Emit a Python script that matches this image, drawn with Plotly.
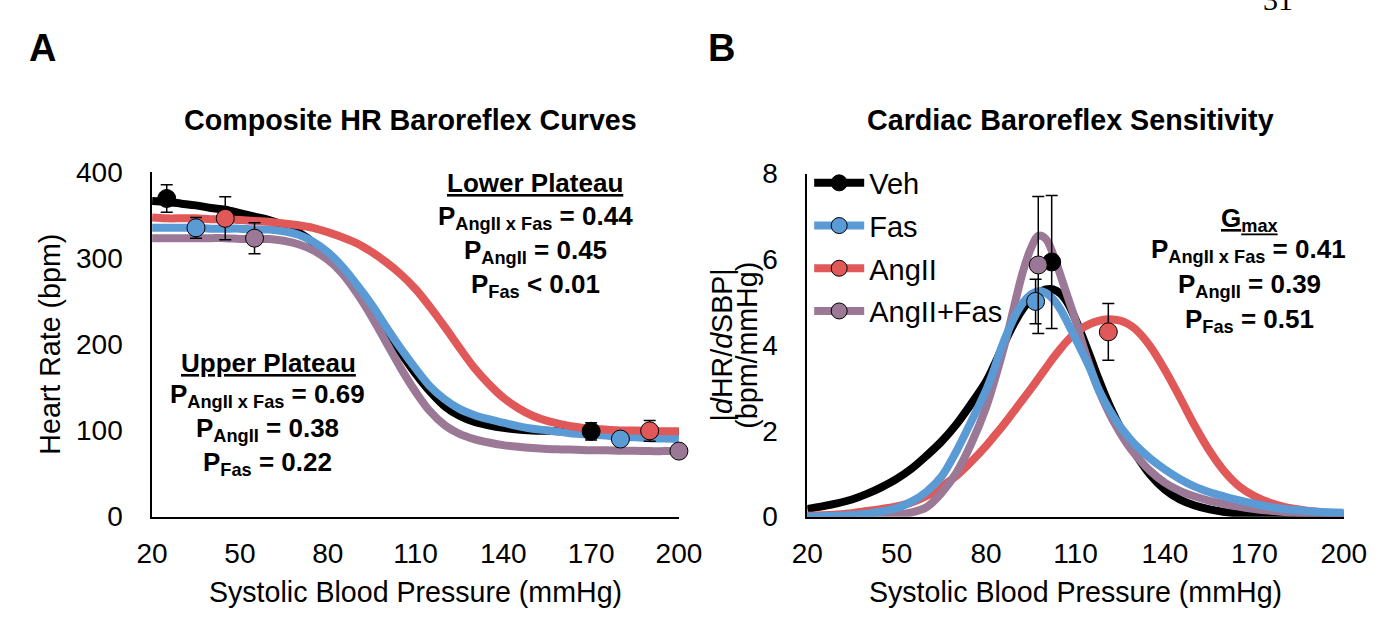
import plotly.graph_objects as go

# ---------------- data ----------------
groups = ["Veh", "Fas", "AngII", "AngII+Fas"]
colors = {"Veh": "#000000", "Fas": "#5B9BD5", "AngII": "#E05858", "AngII+Fas": "#9B7896"}

# Panel A: composite HR baroreflex curves (SBP grid, mmHg)
sbp_grid = [20, 25, 30, 35, 40, 45, 50, 55, 60, 65, 70, 75, 80, 85, 90, 95, 100, 105, 110,
            115, 120, 125, 130, 135, 140, 145, 150, 155, 160, 165, 170, 175, 180, 185, 190, 195, 200]

hr_veh = [366, 365, 363, 361, 358, 356, 352, 348, 344, 338, 330, 318, 302, 283, 262, 240, 215, 190, 166,
          145, 128, 117, 110, 106, 103, 101, 100, 99.5, 99, 99, 99, 98.5, 98.5, 98, 98, 98, 98]
hr_fas = [335, 335, 335, 335, 334, 334, 334, 333, 333, 331, 327, 319, 307, 290, 269, 246, 220, 195, 172,
          151, 136, 125, 118, 113, 109, 105, 102, 100, 98, 96, 95, 94, 92, 92, 91, 90.5, 90]
hr_ang = [347, 346, 346, 346, 345, 345, 344, 343, 342, 340, 338, 335, 330, 324, 317, 307, 295, 281, 264,
          243, 220, 196, 173, 154, 138, 126, 117, 111, 107, 104, 102, 101, 100, 100, 99.5, 99, 99]
hr_angfas = [323, 323, 323, 323, 323, 323, 322, 322, 322, 320, 316, 309, 298, 282, 259, 232, 202, 172, 145,
             122, 106, 96, 90, 86, 83, 81, 79.5, 78.5, 78, 77.5, 77, 77, 76.5, 76.5, 76, 76, 76]

# Panel A: group means at upper and lower plateau
pts_a_x = {"Veh": [25, 170], "Fas": [35, 180], "AngII": [45, 190], "AngII+Fas": [55, 200]}
pts_a_y = {"Veh": [369, 99], "Fas": [335, 90], "AngII": [346, 99.5], "AngII+Fas": [323, 76]}
pts_a_err = {"Veh": [16, 10], "Fas": [12, 7], "AngII": [25, 12], "AngII+Fas": [18, 4]}

# Panel B: gain curves |dHR/dSBP| (bpm/mmHg), denser sampling around the peaks
gain_grid = [20, 25, 30, 35, 40, 45, 50, 55, 60, 65, 70, 75,
             80, 82.5, 85, 87.5, 90, 92.5, 95, 97.5, 100, 102.5, 105, 107.5, 110, 112.5, 115, 117.5,
             120, 122.5, 125, 127.5, 130,
             135, 140, 145, 150, 155, 160, 165, 170, 175, 180, 185, 190, 195, 200]

gain_veh = [0.18, 0.24, 0.31, 0.40, 0.53, 0.69, 0.88, 1.12, 1.42, 1.75, 2.15, 2.63,
            3.15, 3.50, 3.88, 4.25, 4.58, 4.86, 5.08, 5.22, 5.30, 5.30, 5.20, 4.97, 4.60, 4.17, 3.72, 3.25,
            2.82, 2.43, 2.08, 1.76, 1.47,
            0.98, 0.63, 0.40, 0.26, 0.17, 0.11, 0.07, 0.05, 0.03, 0.02, 0.02, 0.01, 0.01, 0.01]
gain_fas = [0.00, 0.01, 0.02, 0.04, 0.07, 0.12, 0.20, 0.35, 0.58, 0.93, 1.52, 2.22,
            2.95, 3.40, 3.92, 4.35, 4.72, 5.00, 5.18, 5.26, 5.22, 5.07, 4.83, 4.50, 4.15, 3.80, 3.43, 3.00,
            2.66, 2.36, 2.10, 1.88, 1.68,
            1.36, 1.10, 0.88, 0.70, 0.57, 0.47, 0.38, 0.30, 0.23, 0.18, 0.15, 0.12, 0.10, 0.09]
gain_ang = [0.02, 0.03, 0.05, 0.08, 0.13, 0.18, 0.24, 0.33, 0.48, 0.70, 0.95, 1.28,
            1.65, 1.86, 2.07, 2.29, 2.52, 2.75, 2.98, 3.22, 3.46, 3.70, 3.92, 4.12, 4.28, 4.41, 4.50, 4.56,
            4.60, 4.60, 4.57, 4.50, 4.38,
            3.98, 3.42, 2.78, 2.12, 1.53, 1.05, 0.70, 0.48, 0.33, 0.23, 0.17, 0.12, 0.08, 0.06]
gain_angfas = [0.00, 0.00, 0.01, 0.01, 0.02, 0.03, 0.05, 0.10, 0.22, 0.55, 1.02, 1.70,
               2.55, 3.10, 3.70, 4.35, 5.08, 5.75, 6.25, 6.55, 6.48, 6.12, 5.62, 5.10, 4.58, 4.00, 3.47, 3.00,
               2.60, 2.25, 1.95, 1.68, 1.45,
               1.07, 0.79, 0.60, 0.47, 0.37, 0.29, 0.23, 0.18, 0.14, 0.11, 0.09, 0.07, 0.06, 0.05]

# Panel B: maximal gain (Gmax) per group
gmax_x = {"Veh": 102, "Fas": 96.6, "AngII": 121, "AngII+Fas": 97.5}
gmax_y = {"Veh": 5.94, "Fas": 5.02, "AngII": 4.31, "AngII+Fas": 5.87}
gmax_err = {"Veh": 1.55, "Fas": 0.52, "AngII": 0.66, "AngII+Fas": 1.6}

x_ticks = [20, 50, 80, 110, 140, 170, 200]
hr_ticks = [0, 100, 200, 300, 400]
gain_ticks = [0, 2, 4, 6, 8]

hr_curves = {"Veh": hr_veh, "Fas": hr_fas, "AngII": hr_ang, "AngII+Fas": hr_angfas}
gain_curves = {"Veh": gain_veh, "Fas": gain_fas, "AngII": gain_ang, "AngII+Fas": gain_angfas}

# ---------------- figure ----------------
W, H = 1395, 621
FONT = "Liberation Sans, Arial, sans-serif"

def px(x):
    return x / W

def py(y):
    return 1 - y / H

fig = go.Figure()

# Panel A curves (drawn first so the markers sit on top)
for g in ["Veh", "AngII+Fas", "Fas", "AngII"]:
    fig.add_trace(go.Scatter(
        x=sbp_grid, y=hr_curves[g], mode="lines", line=dict(color=colors[g], width=8, shape="spline"),
        showlegend=False, hoverinfo="skip", cliponaxis=False, xaxis="x", yaxis="y"))
for g in groups:
    fig.add_trace(go.Scatter(
        x=pts_a_x[g], y=pts_a_y[g], mode="markers",
        marker=dict(size=18, color=colors[g], line=dict(color="#000000", width=1)),
        error_y=dict(type="data", array=pts_a_err[g], color="#000000", thickness=1.5, width=6),
        showlegend=False, cliponaxis=False, xaxis="x", yaxis="y"))

# Panel B curves
for g in ["Veh", "AngII", "AngII+Fas", "Fas"]:
    fig.add_trace(go.Scatter(
        x=gain_grid, y=gain_curves[g], mode="lines", line=dict(color=colors[g], width=8, shape="spline"),
        showlegend=False, hoverinfo="skip", cliponaxis=False, xaxis="x2", yaxis="y2"))
for g in groups:
    fig.add_trace(go.Scatter(
        x=[gmax_x[g]], y=[gmax_y[g]], mode="lines+markers", name=g, legendgroup=g,
        line=dict(color=colors[g], width=8),
        marker=dict(size=18, color=colors[g], line=dict(color="#000000", width=1)),
        error_y=dict(type="data", array=[gmax_err[g]], color="#000000", thickness=1.5, width=6),
        cliponaxis=False, xaxis="x2", yaxis="y2"))

axis_common = dict(showline=True, linecolor="#000000", linewidth=1.5, showgrid=False, zeroline=False,
                   ticks="", tickfont=dict(family=FONT, size=28, color="#000000"), fixedrange=True)

fig.update_layout(
    width=W, height=H, margin=dict(l=0, r=0, t=0, b=0),
    paper_bgcolor="#ffffff", plot_bgcolor="#ffffff",
    font=dict(family=FONT, color="#000000"),
    xaxis=dict(domain=[px(140), px(682)], range=[20, 200], tickvals=x_ticks, ticklabelstandoff=11,
               title=dict(text="Systolic Blood Pressure (mmHg)", font=dict(size=28.6), standoff=14), anchor="y",
               **axis_common),
    yaxis=dict(domain=[py(528), py(165)], range=[0, 400], tickvals=hr_ticks, ticklabelstandoff=22,
               title=dict(text="Heart Rate (bpm)", font=dict(size=28.6), standoff=7), anchor="x",
               **axis_common),
    xaxis2=dict(domain=[px(814), px(1366)], range=[20, 200], tickvals=x_ticks, ticklabelstandoff=11,
                title=dict(text="Systolic Blood Pressure (mmHg)", font=dict(size=28.6), standoff=14), anchor="y2",
                **axis_common),
    yaxis2=dict(domain=[py(528), py(167)], range=[0, 8], tickvals=gain_ticks, ticklabelstandoff=22,
                anchor="x2", **axis_common),
    legend=dict(x=px(816), y=py(150), xanchor="left", yanchor="top", bgcolor="rgba(0,0,0,0)",
                font=dict(family=FONT, size=29, color="#000000"), itemwidth=50, tracegroupgap=2,
                traceorder="grouped"),
    showlegend=True,
)

annotations = []

def note(text, x, y, size=26, bold=True, family=FONT, **kw):
    t = f"<b>{text}</b>" if bold else text
    annotations.append(dict(text=t, x=px(x), y=py(y), xref="paper", yref="paper", showarrow=False,
                            xanchor=kw.pop("xanchor", "center"), yanchor=kw.pop("yanchor", "middle"),
                            font=dict(family=family, size=size, color="#000000"), **kw))

# panel letters and titles
note("A", 27, 35, size=38)
note("B", 726, 35, size=38)
note("Composite HR Baroreflex Curves", 406, 111, size=28.7)
note("Cardiac Baroreflex Sensitivity", 1085, 111, size=28.7)

# panel A statistics
note("<u>Lower Plateau</u>", 534, 177)
note("P<sub>AngII x Fas</sub> = 0.44", 534, 213)
note("P<sub>AngII</sub> = 0.45", 534, 249)
note("P<sub>Fas</sub> < 0.01", 534, 285)
note("<u>Upper Plateau</u>", 260, 366)
note("P<sub>AngII x Fas</sub> = 0.69", 259, 400)
note("P<sub>AngII</sub> = 0.38", 259, 436)
note("P<sub>Fas</sub> = 0.22", 259, 472)

# panel B statistics
note("<u>G<sub>max</sub></u>", 1269, 215)
note("P<sub>AngII x Fas</sub> = 0.41", 1268, 248)
note("P<sub>AngII</sub> = 0.39", 1269, 285)
note("P<sub>Fas</sub> = 0.51", 1269, 322)

# panel B y-axis title, two rotated lines
note("|<i>d</i>HR/<i>d</i>SBP|", 726, 347, size=28.6, bold=False, textangle=-90)
note("(bpm/mmHg)", 752, 347, size=28.6, bold=False, textangle=-90)

# page number
note("31", 1298, -16, size=30, bold=False, family="Liberation Serif, Times New Roman, serif")

fig.update_layout(annotations=annotations)

fig.write_html("out.html")
